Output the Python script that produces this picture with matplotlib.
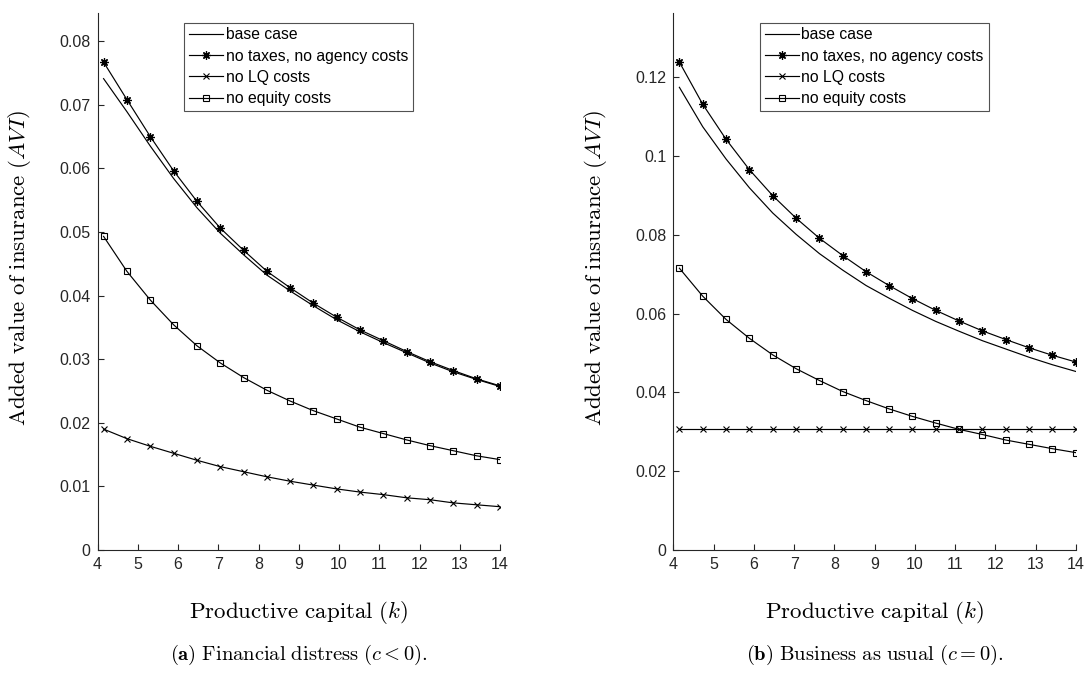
import matplotlib
matplotlib.use("Agg")
import matplotlib.pyplot as plt

plt.rcParams['font.family'] = ['Liberation Sans', 'DejaVu Sans']
plt.rcParams['mathtext.fontset'] = 'cm'

# Productive capital grid (marker positions)
k = [4.15, 4.73, 5.31, 5.89, 6.47, 7.05, 7.63, 8.21, 8.79, 9.36,
     9.94, 10.52, 11.10, 11.68, 12.26, 12.84, 13.42, 14.00]

# (a) financial distress, c < 0
base_a = [0.0741, 0.0689, 0.0635, 0.0584, 0.0538, 0.0498, 0.0464, 0.0432, 0.0407,
          0.0384, 0.0362, 0.0343, 0.0326, 0.0310, 0.0294, 0.0280, 0.0268, 0.0257]
notax_a = [0.0767, 0.0708, 0.0650, 0.0596, 0.0548, 0.0506, 0.0471, 0.0438, 0.0412,
           0.0388, 0.0366, 0.0346, 0.0329, 0.0312, 0.0296, 0.0282, 0.0269, 0.0258]
nolq_a = [0.0190, 0.0175, 0.0163, 0.0152, 0.0141, 0.0131, 0.0123, 0.0115, 0.0108,
          0.0102, 0.0096, 0.0091, 0.0087, 0.0082, 0.0079, 0.0074, 0.0071, 0.0068]
noeq_a = [0.0493, 0.0438, 0.0393, 0.0354, 0.0321, 0.0294, 0.0271, 0.0251, 0.0234,
          0.0219, 0.0206, 0.0193, 0.0183, 0.0173, 0.0164, 0.0156, 0.0148, 0.0142]

# (b) business as usual, c = 0
base_b = [0.1174, 0.1074, 0.0992, 0.0919, 0.0855, 0.0801, 0.0752, 0.0710, 0.0671,
          0.0639, 0.0608, 0.0580, 0.0555, 0.0531, 0.0510, 0.0489, 0.0470, 0.0453]
notax_b = [0.1238, 0.1131, 0.1042, 0.0965, 0.0899, 0.0842, 0.0791, 0.0747, 0.0706,
           0.0671, 0.0638, 0.0608, 0.0581, 0.0556, 0.0534, 0.0513, 0.0494, 0.0477]
nolq_b = [0.0308] * 18
noeq_b = [0.0715, 0.0644, 0.0585, 0.0537, 0.0495, 0.0460, 0.0430, 0.0402, 0.0379,
          0.0358, 0.0339, 0.0322, 0.0306, 0.0293, 0.0279, 0.0268, 0.0257, 0.0247]

yticks_a = [0, 0.01, 0.02, 0.03, 0.04, 0.05, 0.06, 0.07, 0.08]
yticks_b = [0, 0.02, 0.04, 0.06, 0.08, 0.1, 0.12]
xticks = list(range(4, 15))

labels = ['base case', 'no taxes, no agency costs', 'no LQ costs', 'no equity costs']
captions = [r'$\mathbf{(a)}\ \mathrm{Financial\ distress}\ (c<0).$',
            r'$\mathbf{(b)}\ \mathrm{Business\ as\ usual}\ (c=0).$']

grey = '#262626'
asterisk = (8, 2, 0)

fig = plt.figure(figsize=(10.85, 6.86), dpi=100)
ax_a = fig.add_axes([0.0899, 0.1983, 0.3710, 0.7823])
ax_b = fig.add_axes([0.6206, 0.1983, 0.3709, 0.7823])

panels = [(ax_a, base_a, notax_a, nolq_a, noeq_a, yticks_a),
          (ax_b, base_b, notax_b, nolq_b, noeq_b, yticks_b)]

for i, (ax, base, notax, nolq, noeq, yt) in enumerate(panels):
    lw = 0.85
    ax.plot(k, base, color='k', lw=lw, label=labels[0])
    ax.plot(k, notax, color='k', lw=lw, marker=asterisk, ms=6, mew=0.9,
            label=labels[1])
    ax.plot(k, nolq, color='k', lw=lw, marker='x', ms=4, mew=0.8,
            label=labels[2])
    ax.plot(k, noeq, color='k', lw=lw, marker='s', ms=4, mew=0.8,
            mfc='none', label=labels[3])

    ax.set_xlim(4, 14)
    ax.set_ylim(0, 1.1 * max(notax))
    ax.set_xticks(xticks)
    ax.set_yticks(yt)
    ax.set_yticklabels(['0'] + [('%g' % v) for v in yt[1:]])

    for side in ['top', 'right']:
        ax.spines[side].set_visible(False)
    for side in ['left', 'bottom']:
        ax.spines[side].set_color(grey)
        ax.spines[side].set_linewidth(0.8)
    ax.tick_params(direction='in', length=4, width=0.8, color=grey,
                   labelcolor=grey, labelsize=11.5)
    ax.tick_params(axis='y', pad=5)
    ax.tick_params(axis='x', pad=5)

    ax.set_xlabel(r'$\mathrm{Productive\ capital}\ (k)$', fontsize=16.5)
    ax.set_ylabel(r'$\mathrm{Added\ value\ of\ insurance}\ (AVI)$', fontsize=16.5)
    ax.xaxis.set_label_coords(0.5, -0.092)
    ax.yaxis.set_label_coords(-0.16, 0.525)

    leg = ax.legend(loc='upper left', bbox_to_anchor=(0.215, 0.9825),
                    fontsize=11.3, fancybox=False, handlelength=2.2,
                    handletextpad=0.15, labelspacing=0.4, borderpad=0.3,
                    borderaxespad=0)
    leg.get_frame().set_edgecolor(grey)
    leg.get_frame().set_linewidth(0.8)

    pos = ax.get_position()
    fig.text(pos.x0 + pos.width / 2, 0.045, captions[i], fontsize=14.8,
             ha='center', va='center')

fig.savefig('out.png', dpi=100)
